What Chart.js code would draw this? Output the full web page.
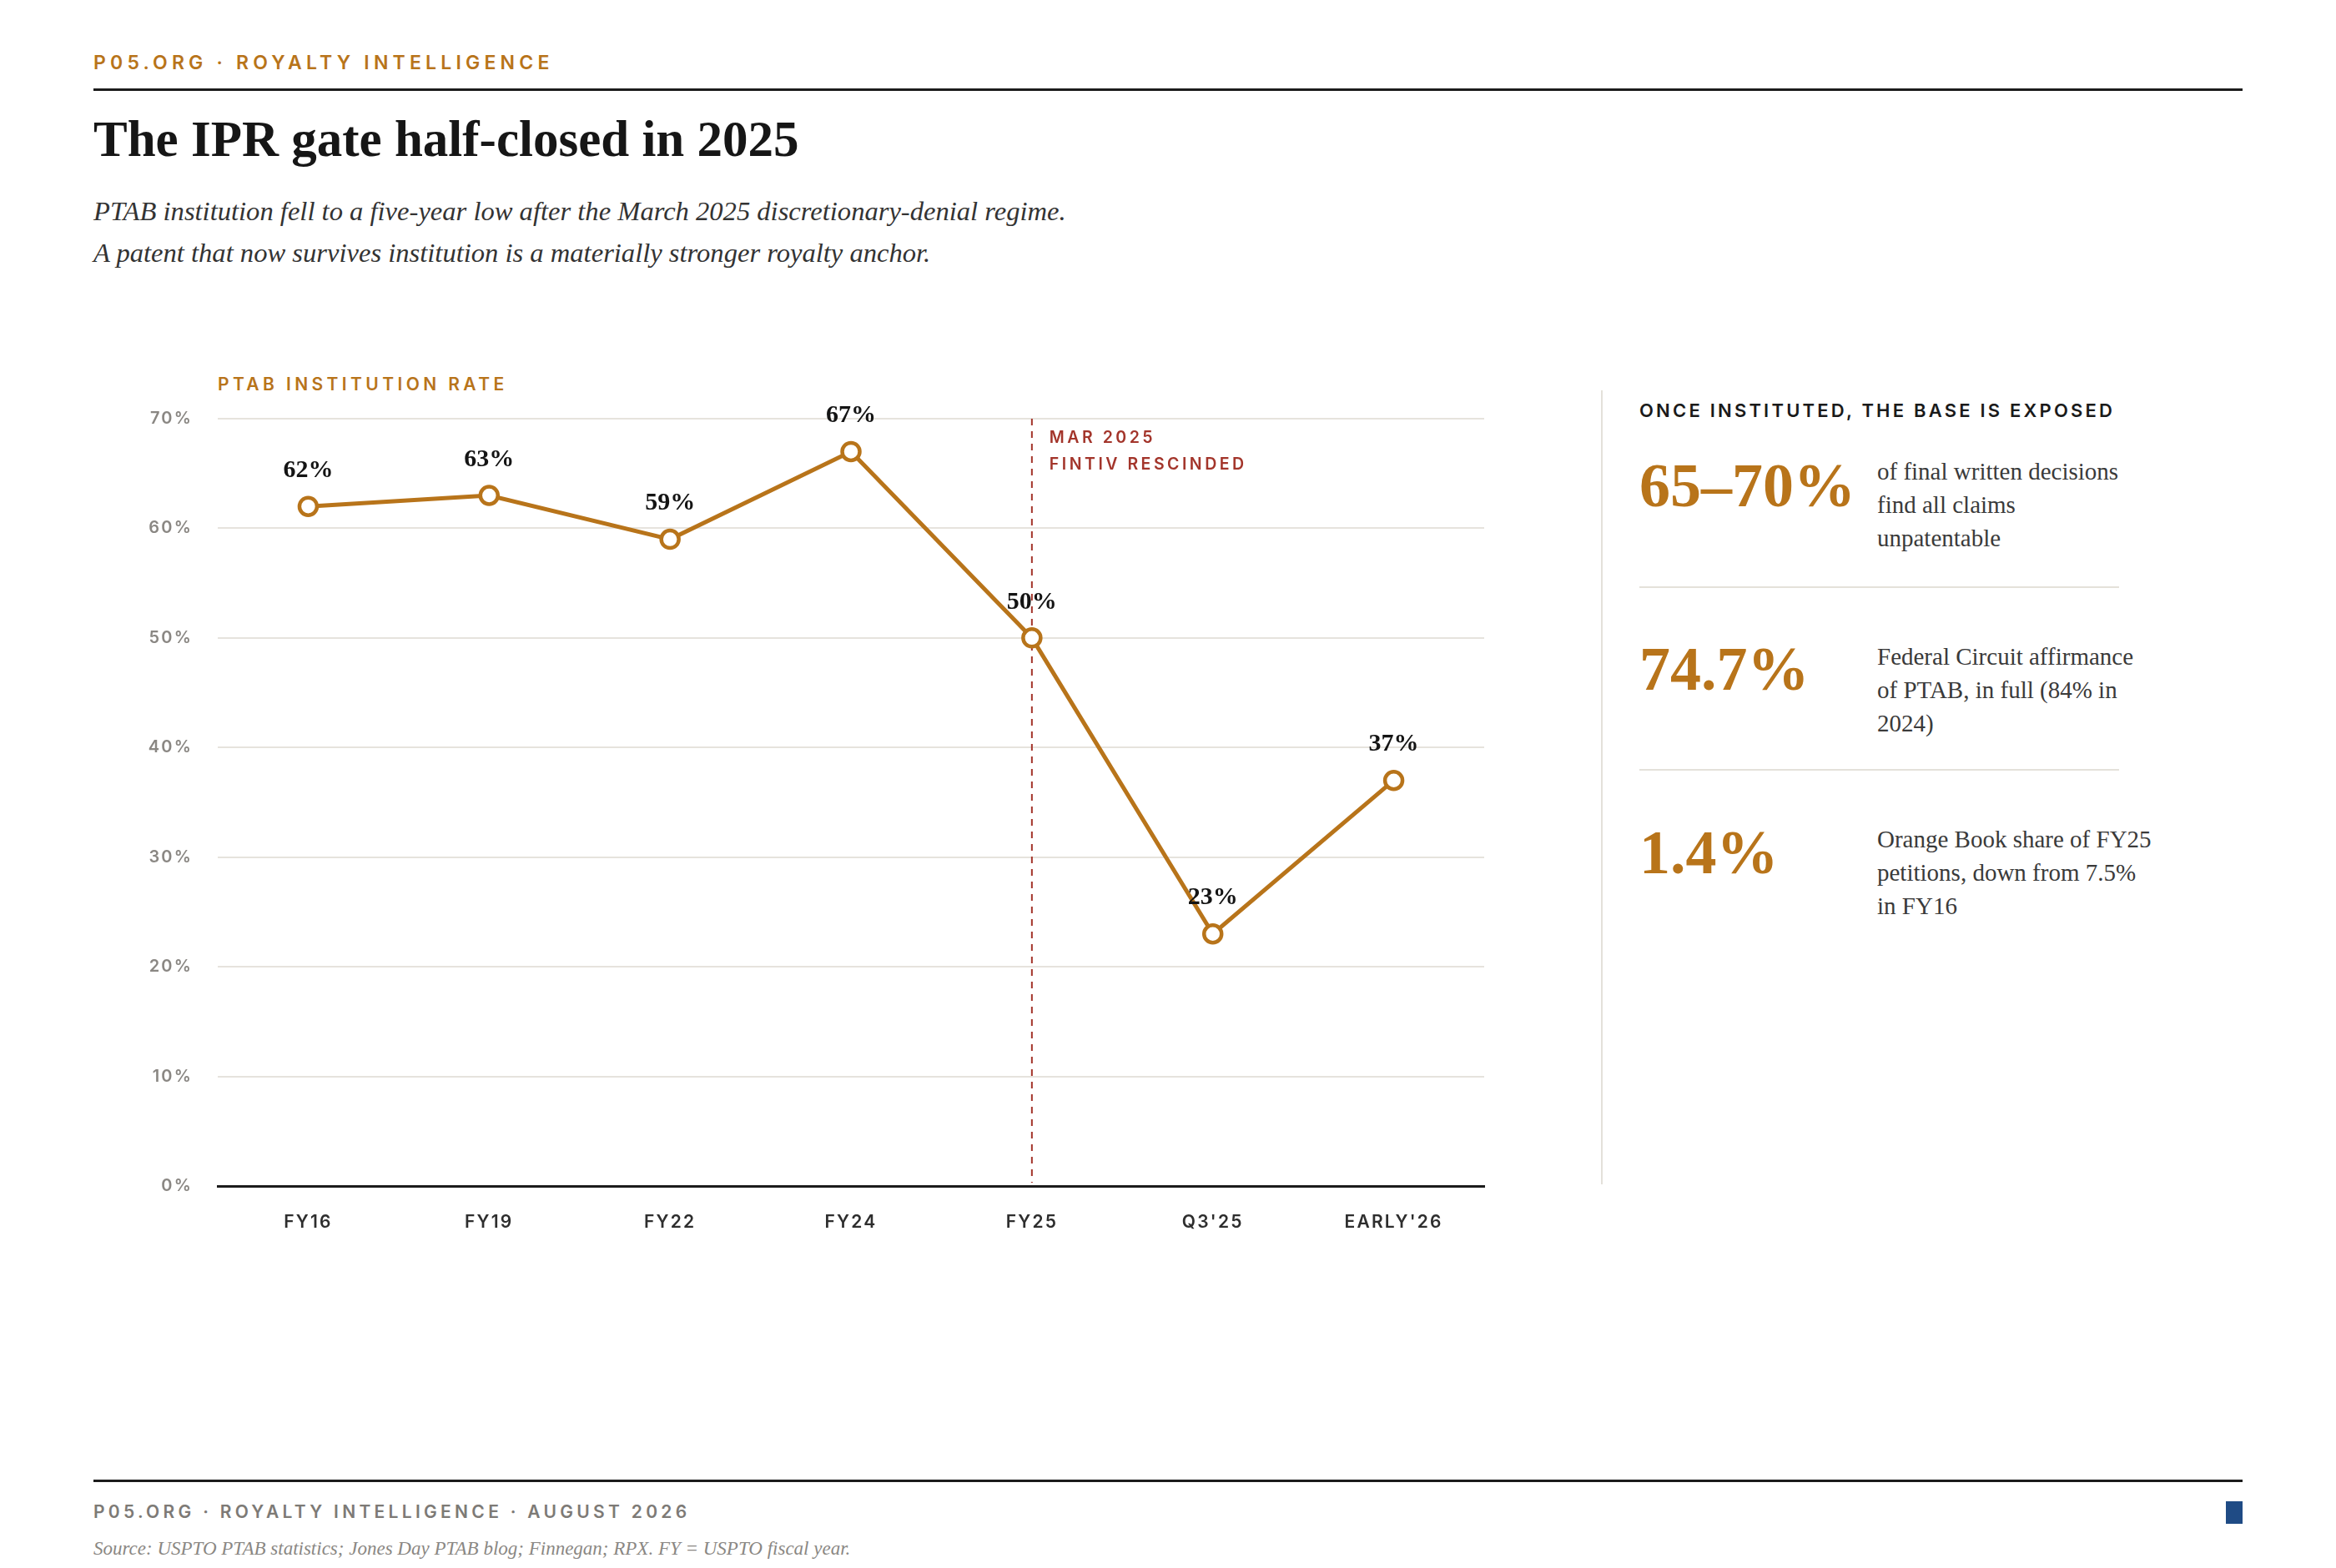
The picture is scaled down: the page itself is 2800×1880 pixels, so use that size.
<!DOCTYPE html>
<html>
<head>
<meta charset="utf-8">
<script src="https://cdn.jsdelivr.net/npm/chart.js@4.4.1/dist/chart.umd.min.js"></script>
<style>
  html, body { margin:0; padding:0; background:#ffffff; }
  body { width:2800px; height:1880px; position:relative; overflow:hidden; }
  .abs { position:absolute; white-space:nowrap; }
  .kicker { font-family:Inter, "Liberation Sans", sans-serif; font-weight:600; font-size:23px; line-height:23px; letter-spacing:5.2px; color:#b8741a; }
  .rule { position:absolute; background:#1c1c1c; }
  .title { font-family:"Liberation Serif", serif; font-weight:700; font-size:61px; line-height:61px; color:#161616; }
  .sub { font-family:"Liberation Serif", serif; font-style:italic; font-size:32.6px; line-height:50px; color:#333333; }
  .panelhead { font-family:Inter, sans-serif; font-weight:600; font-size:22px; line-height:22px; letter-spacing:3.2px; color:#1a1a1a; }
  .big { font-family:"Liberation Serif", serif; font-weight:700; font-size:74px; line-height:74px; color:#b8741a; }
  .desc { font-family:"Liberation Serif", serif; font-size:29px; line-height:40px; color:#3a3a3a; }
  .sep { position:absolute; height:2px; background:#e4e1da; }
  .foot { font-family:Inter, sans-serif; font-weight:600; font-size:21px; line-height:21px; letter-spacing:4.3px; color:#7d7a76; }
  .src { font-family:"Liberation Serif", serif; font-style:italic; font-size:23px; line-height:23px; color:#8a8783; }
  .axlabel { font-family:Inter, sans-serif; font-weight:600; font-size:21px; line-height:21px; letter-spacing:4.4px; color:#b8741a; }
</style>
</head>
<body>
<div class="abs kicker" style="left:112px; top:64px;">P05.ORG · ROYALTY INTELLIGENCE</div>
<div class="rule" style="left:112px; top:106px; width:2576px; height:3px;"></div>
<div class="abs title" style="left:112px; top:136px;">The IPR gate half-closed in 2025</div>
<div class="abs sub" style="left:112px; top:228px;">PTAB institution fell to a five-year low after the March 2025 discretionary-denial regime.<br>A patent that now survives institution is a materially stronger royalty anchor.</div>

<div class="abs axlabel" style="left:261px; top:450px;">PTAB INSTITUTION RATE</div>
<div style="position:absolute; left:100px; top:440px; width:1720px; height:1080px;">
  <canvas id="chart"></canvas>
</div>

<div style="position:absolute; left:1919px; top:468px; width:2px; height:952px; background:#e4e1da;"></div>
<div class="abs panelhead" style="left:1965px; top:481px;">ONCE INSTITUTED, THE BASE IS EXPOSED</div>

<div class="abs big" style="left:1965px; top:545px;">65–70%</div>
<div class="abs desc" style="left:2250px; top:545px;">of final written decisions<br>find all claims<br>unpatentable</div>
<div class="sep" style="left:1965px; top:703px; width:575px;"></div>

<div class="abs big" style="left:1965px; top:765px;">74.7%</div>
<div class="abs desc" style="left:2250px; top:767px;">Federal Circuit affirmance<br>of PTAB, in full (84% in<br>2024)</div>
<div class="sep" style="left:1965px; top:922px; width:575px;"></div>

<div class="abs big" style="left:1965px; top:985px;">1.4%</div>
<div class="abs desc" style="left:2250px; top:986px;">Orange Book share of FY25<br>petitions, down from 7.5%<br>in FY16</div>

<div class="rule" style="left:112px; top:1774px; width:2576px; height:3px;"></div>
<div class="abs foot" style="left:112px; top:1802px;">P05.ORG · ROYALTY INTELLIGENCE · AUGUST 2026</div>
<div style="position:absolute; left:2668px; top:1800px; width:20px; height:27px; background:#1f4b85;"></div>
<div class="abs src" style="left:112px; top:1845px;">Source: USPTO PTAB statistics; Jones Day PTAB blog; Finnegan; RPX. FY = USPTO fiscal year.</div>

<script>
const categories = ["FY16", "FY19", "FY22", "FY24", "FY25", "Q3'25", "EARLY'26"];
const institutionRate = [62, 63, 59, 67, 50, 23, 37];
const yTicks = [0, 10, 20, 30, 40, 50, 60, 70];
const eventIndex = 4;
const eventLines = ["MAR 2025", "FINTIV RESCINDED"];

const GOLD = '#b8741a';
const RED = '#a3352b';

const deco = {
  id: 'deco',
  beforeDraw(chart) {
    chart.ctx.letterSpacing = '2.2px';
  },
  beforeDatasetsDraw(chart) {
    const ctx = chart.ctx;
    const area = chart.chartArea;
    const x = chart.scales.x.getPixelForValue(eventIndex);
    ctx.save();
    ctx.strokeStyle = RED;
    ctx.lineWidth = 2;
    ctx.setLineDash([8, 7]);
    ctx.beginPath();
    ctx.moveTo(x, area.top);
    ctx.lineTo(x, area.bottom - 4);
    ctx.stroke();
    ctx.setLineDash([]);
    ctx.letterSpacing = '3.5px';
    ctx.fillStyle = RED;
    ctx.font = '600 19.5px Inter, sans-serif';
    ctx.textAlign = 'left';
    ctx.textBaseline = 'middle';
    eventLines.forEach((t, i) => ctx.fillText(t, x + 21, area.top + 23 + i * 32));
    ctx.restore();
  },
  afterDatasetsDraw(chart) {
    const ctx = chart.ctx;
    const meta = chart.getDatasetMeta(0);
    ctx.save();
    ctx.letterSpacing = '0px';
    ctx.fillStyle = '#141414';
    ctx.font = 'bold 30px "Liberation Serif", serif';
    ctx.textAlign = 'center';
    ctx.textBaseline = 'middle';
    meta.data.forEach((pt, i) => {
      ctx.fillText(institutionRate[i] + '%', pt.x, pt.y - 43);
    });
    ctx.restore();
  }
};

new Chart(document.getElementById('chart'), {
  type: 'line',
  data: {
    labels: categories,
    datasets: [{
      data: institutionRate,
      borderColor: GOLD,
      borderWidth: 5,
      backgroundColor: '#ffffff',
      pointBackgroundColor: '#ffffff',
      pointBorderColor: GOLD,
      pointBorderWidth: 4.5,
      pointRadius: 10.5,
      tension: 0,
      fill: false
    }]
  },
  options: {
    responsive: true,
    maintainAspectRatio: false,
    animation: false,
    layout: { padding: { top: 62, right: 41, left: 0, bottom: 0 } },
    plugins: { legend: { display: false }, tooltip: { enabled: false } },
    scales: {
      x: {
        offset: true,
        grid: { display: false, drawTicks: false },
        border: { display: true, color: '#1c1c1c', width: 3 },
        ticks: { color: '#2e2e2e', font: { family: 'Inter', size: 21, weight: '600' }, padding: 31, maxRotation: 0 },
        afterFit(s) { s.height = 98; }
      },
      y: {
        min: 0, max: 70,
        afterBuildTicks(s) { s.ticks = yTicks.map(v => ({ value: v })); },
        grid: { color: '#e6e3dd', lineWidth: 2, drawTicks: false },
        border: { display: false },
        ticks: { color: '#8a8783', font: { family: 'Inter', size: 20, weight: '600' }, padding: 30, callback: v => v + '%' },
        afterFit(s) { s.width = 161; }
      }
    }
  },
  plugins: [deco]
});
</script>
</body>
</html>
